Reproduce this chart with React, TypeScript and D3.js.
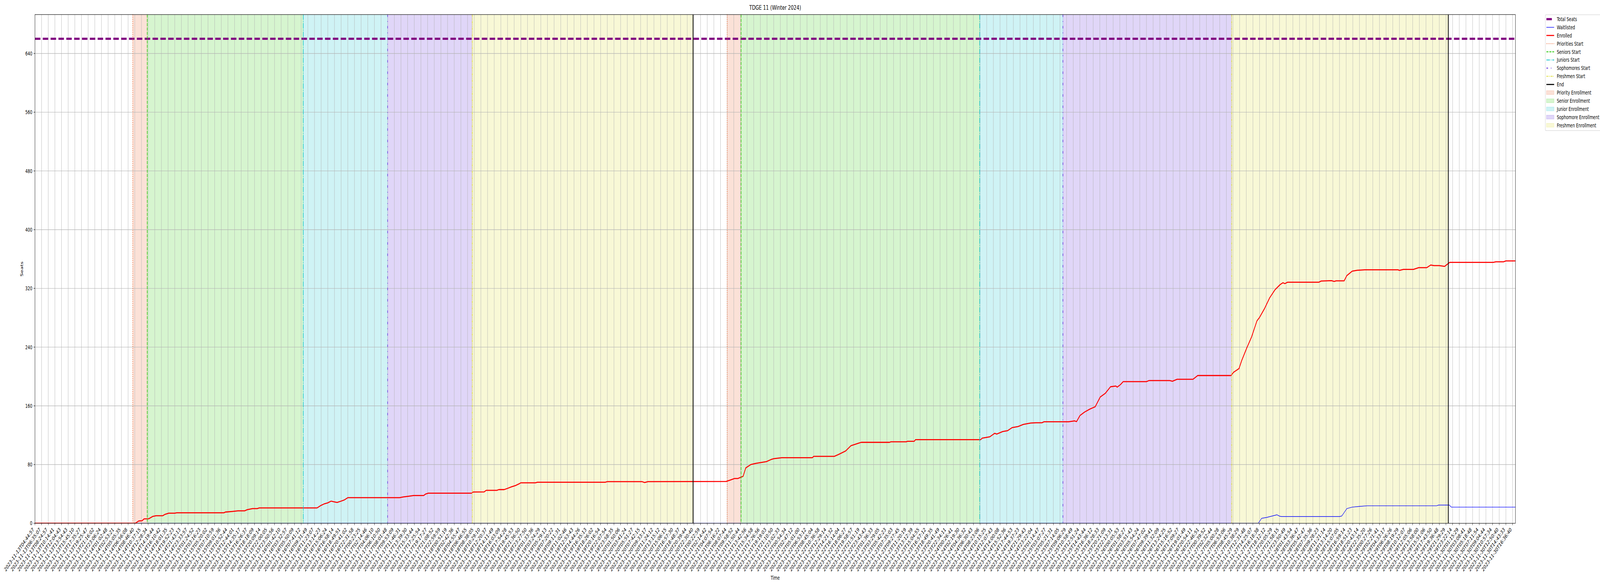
import React, { useLayoutEffect } from "react";
import * as d3 from "d3";

// ---------- data ----------
const TITLE = "TDGE 11 (Winter 2024)";
const TOTAL_SEATS = 660;
const Y_TICKS = [0, 80, 160, 240, 320, 400, 480, 560, 640];

// labelled snapshots (one label every few snapshots on the categorical time axis)
const TICK_LABELS = [
  "2023-11-13T04:44:57","2023-11-13T06:35:07","2023-11-13T08:24:57","2023-11-13T10:14:41","2023-11-13T12:04:43",
  "2023-11-13T13:54:43","2023-11-13T15:45:10","2023-11-13T17:35:27","2023-11-13T19:25:47","2023-11-13T21:16:02",
  "2023-11-13T23:06:24","2023-11-14T01:02:48","2023-11-14T02:53:21","2023-11-14T05:05:35","2023-11-14T06:56:08",
  "2023-11-14T08:46:40","2023-11-14T10:37:15","2023-11-14T12:28:34","2023-11-14T14:19:44","2023-11-14T16:10:42",
  "2023-11-14T18:01:35","2023-11-14T19:52:23","2023-11-14T21:43:13","2023-11-14T23:33:57","2023-11-15T01:24:52",
  "2023-11-15T03:16:23","2023-11-15T05:20:02","2023-11-15T07:10:59","2023-11-15T09:01:36","2023-11-15T10:52:44",
  "2023-11-15T12:44:01","2023-11-15T14:35:17","2023-11-15T16:26:37","2023-11-15T18:18:09","2023-11-15T20:09:14",
  "2023-11-15T22:00:05","2023-11-15T23:50:56","2023-11-16T01:42:10","2023-11-16T03:32:57","2023-11-16T05:50:09",
  "2023-11-16T07:41:12","2023-11-16T09:31:49","2023-11-16T11:23:07","2023-11-16T13:14:23","2023-11-16T15:06:24",
  "2023-11-16T16:58:14","2023-11-16T18:49:51","2023-11-16T20:41:02","2023-11-16T22:31:58","2023-11-17T00:23:25",
  "2023-11-17T02:14:46","2023-11-17T04:06:10","2023-11-17T06:10:50","2023-11-17T08:01:48","2023-11-17T09:53:09",
  "2023-11-17T11:46:31","2023-11-17T13:39:30","2023-11-17T15:33:44","2023-11-17T17:25:54","2023-11-17T19:17:27",
  "2023-11-17T21:08:52","2023-11-17T22:59:59","2023-11-18T00:51:19","2023-11-18T02:42:36","2023-11-18T04:55:47",
  "2023-11-18T06:46:55","2023-11-18T08:38:05","2023-11-18T10:29:10","2023-11-18T12:20:37","2023-11-18T14:11:49",
  "2023-11-18T16:03:09","2023-11-18T17:54:28","2023-11-18T19:45:53","2023-11-18T21:36:50","2023-11-18T23:27:50",
  "2023-11-19T01:33:36","2023-11-19T03:24:29","2023-11-19T05:29:13","2023-11-19T07:20:22","2023-11-19T09:11:31",
  "2023-11-19T11:02:46","2023-11-19T12:53:43","2023-11-19T14:44:26","2023-11-19T16:35:13","2023-11-19T18:26:02",
  "2023-11-19T20:16:54","2023-11-19T22:07:54","2023-11-19T23:58:35","2023-11-20T01:50:06","2023-11-20T03:41:24",
  "2023-11-20T05:51:27","2023-11-20T07:42:15","2023-11-20T09:33:17","2023-11-20T11:24:12","2023-11-20T13:15:12",
  "2023-11-20T15:06:15","2023-11-20T16:57:30","2023-11-20T18:48:37","2023-11-20T20:39:44","2023-11-20T22:30:40",
  "2023-11-21T00:22:59","2023-11-21T02:14:42","2023-11-21T04:07:54","2023-11-21T06:16:22","2023-11-21T08:07:44",
  "2023-11-21T09:58:52","2023-11-21T11:50:44","2023-11-21T13:42:56","2023-11-21T15:34:58","2023-11-21T17:26:56",
  "2023-11-21T19:19:03","2023-11-21T21:10:50","2023-11-21T23:02:33","2023-11-22T00:54:34","2023-11-22T02:47:12",
  "2023-11-22T05:01:00","2023-11-22T06:53:12","2023-11-22T08:45:04","2023-11-22T10:36:58","2023-11-22T12:29:14",
  "2023-11-22T14:21:32","2023-11-22T16:14:04","2023-11-22T18:06:27","2023-11-22T19:58:57","2023-11-22T21:51:19",
  "2023-11-22T23:43:43","2023-11-23T01:36:33","2023-11-23T03:29:05","2023-11-23T05:42:23","2023-11-23T07:35:03",
  "2023-11-23T09:27:45","2023-11-23T11:20:19","2023-11-23T13:12:39","2023-11-23T15:04:55","2023-11-23T16:57:12",
  "2023-11-23T18:49:35","2023-11-23T20:41:49","2023-11-23T22:34:11","2023-11-24T00:26:41","2023-11-24T02:19:30",
  "2023-11-24T04:36:32","2023-11-24T06:30:43","2023-11-24T08:23:06","2023-11-24T10:15:25","2023-11-24T12:07:43",
  "2023-11-24T14:00:08","2023-11-24T15:52:36","2023-11-24T17:44:53","2023-11-24T19:37:23","2023-11-24T21:29:43",
  "2023-11-24T23:22:04","2023-11-25T01:14:47","2023-11-25T03:07:27","2023-11-25T05:21:31","2023-11-25T07:14:05",
  "2023-11-25T09:06:29","2023-11-25T10:58:49","2023-11-25T12:51:24","2023-11-25T14:43:44","2023-11-25T16:36:12",
  "2023-11-25T18:28:33","2023-11-25T20:21:09","2023-11-25T22:13:31","2023-11-26T00:05:53","2023-11-26T01:58:27",
  "2023-11-26T03:51:43","2023-11-26T05:54:24","2023-11-26T07:47:02","2023-11-26T09:39:41","2023-11-26T11:32:09",
  "2023-11-26T13:24:25","2023-11-26T15:16:52","2023-11-26T17:09:27","2023-11-26T19:01:49","2023-11-26T20:54:11",
  "2023-11-26T22:46:51","2023-11-27T00:39:52","2023-11-27T02:32:44","2023-11-27T05:00:28","2023-11-27T06:53:06",
  "2023-11-27T08:45:29","2023-11-27T10:38:29","2023-11-27T12:31:48","2023-11-27T14:25:07","2023-11-27T16:18:38",
  "2023-11-27T18:12:12","2023-11-27T20:05:29","2023-11-27T21:58:15","2023-11-27T23:50:49","2023-11-28T01:43:54",
  "2023-11-28T03:36:47","2023-11-28T05:42:47","2023-11-28T07:35:36","2023-11-28T09:28:23","2023-11-28T11:21:14",
  "2023-11-28T13:14:20","2023-11-28T15:07:05","2023-11-28T16:59:14","2023-11-28T18:51:23","2023-11-28T20:43:14",
  "2023-11-28T22:35:20","2023-11-29T00:27:26","2023-11-29T02:21:41","2023-11-29T04:33:17","2023-11-29T06:26:26",
  "2023-11-29T08:19:29","2023-11-29T10:12:07","2023-11-29T12:05:06","2023-11-29T13:58:00","2023-11-29T15:51:06",
  "2023-11-29T17:43:50","2023-11-29T19:36:48","2023-11-29T21:29:29","2023-11-29T23:22:14","2023-11-30T01:15:29",
  "2023-11-30T03:08:41","2023-11-30T05:18:48","2023-11-30T07:11:54","2023-11-30T09:04:44","2023-11-30T10:57:34",
  "2023-11-30T12:50:40","2023-11-30T14:43:33","2023-11-30T16:36:40",
];
// last snapshot on the axis, in labelled-tick units
const LAST_SNAPSHOT = 222.44;

// enrolled seats: snapshot position (labelled-tick units) and seat count
const ENROLLED_POS = [
  0, 15.1, 15.4, 15.6, 16.1, 16.4, 17.1, 17.7, 18.2, 19.2, 19.5, 20.1, 21.0, 21.3, 28.4, 28.6, 29.7, 30.5, 31.5, 31.9,
  32.7, 33.4, 33.7, 42.4, 42.9, 43.5, 44.0, 44.5, 44.9, 45.4, 46.0, 46.5, 47.0, 54.8, 55.3, 56.2, 56.9, 58.4, 58.7, 59.1,
  65.6, 65.85, 67.5, 67.8, 69.4, 69.7, 70.5, 71.1, 71.6, 72.2, 72.75, 73.0, 75.2, 75.5, 85.7, 86.0, 91.2, 91.6, 92.1,
  103.85, 104.5, 105.1, 105.6, 106.4, 106.8, 107.55, 108.3, 109.1, 109.9, 110.6, 111.0, 112.2, 116.8, 117.0, 120.1,
  120.7, 121.8, 122.6, 123.8, 124.15, 128.4, 128.6, 130.9, 131.1, 132.1, 132.3, 142.1, 142.3, 143.45, 144.2, 144.5,
  145.4, 146.15, 146.8, 147.7, 148.5, 149.6, 150.4, 151.3, 151.6, 155.3, 156.2, 156.5, 157.0, 157.7, 158.5, 159.3,
  160.05, 160.8, 161.6, 162.4, 162.6, 163.1, 163.5, 167.0, 167.4, 170.5, 170.9, 171.6, 174.0, 174.7, 179.7, 180.1,
  180.9, 181.3, 182.05, 182.8, 183.6, 184.0, 184.75, 185.5, 186.3, 187.1, 187.5, 187.8, 188.2, 192.9, 193.25, 194.8,
  195.2, 195.5, 196.7, 197.1, 197.9, 198.65, 199.8, 204.8, 205.0, 205.6, 207.1, 207.9, 209.1, 209.7, 210.2, 211.0,
  211.8, 212.55, 219.1, 219.5, 220.65, 221.0, 222.44,
];
const ENROLLED = [
  0, 0, 2, 3.2, 3.5, 6, 6.2, 9.4, 10.3, 10.3, 12, 13.8, 13.8, 14.3, 14.3, 15.3, 16.2, 17, 17, 18.6,
  20, 20, 21, 21, 24, 26.6, 27.9, 30.2, 29.3, 28.4, 30.2, 31.9, 34.9, 34.9, 35.8, 36.9, 37.8, 37.8, 39.9, 41,
  41, 42.6, 42.8, 44.9, 44.9, 45.9, 45.9, 47.9, 49.7, 51.4, 53.8, 55.2, 55.2, 55.9, 55.9, 56.8, 56.8, 55.5, 56.8,
  57, 59, 61, 61, 64, 75.5, 80, 81.6, 82.8, 84, 86.9, 88, 89.3, 89.3, 91.2, 91.2,
  93.6, 98.5, 105.7, 109.3, 110.3, 110.3, 111, 111, 111.7, 111.7, 113.9, 113.9, 116, 117.8, 122.6, 121.5,
  125, 126.2, 130.3, 131.8, 134.7, 136.6, 137, 137, 138.3, 138.3, 139.5, 138.5, 146.7, 151.5, 155.6, 158.8,
  172, 176.9, 186, 187, 185.5, 189, 193, 193, 194.5, 194.5, 193.5, 196.2, 196.2, 201.3, 201.3, 205.8,
  210.7, 221.5, 238.4, 254, 275.8, 280.6, 292.7, 307, 318, 325.3, 327.7, 326.5, 328.4, 328.4, 330, 330.5,
  329.5, 330.3, 330.3, 337.4, 343.4, 344.6, 345.3, 345.3, 344.5, 345.8, 345.8, 348.2, 348.2, 351.8, 351, 351,
  350, 355.4, 355.4, 356.2, 356.2, 357.4, 357.4,
];

// waitlisted students
const WAITLIST_POS = [0, 183.8, 184.3, 185.05, 185.8, 186.6, 187.0, 187.3, 196.0, 196.35, 197.1, 197.9, 199.0, 200.2, 210.6, 210.9, 212.5, 212.8, 222.44];
const WAITLISTED = [0, 0, 6.8, 8, 9.7, 11.6, 9.7, 9.2, 9.2, 10, 20, 22, 23, 23.9, 23.9, 24.9, 24.9, 22, 22];

// enrollment phases (two passes); starts in labelled-tick units
const PHASES = ["Priority", "Senior", "Junior", "Sophomore", "Freshmen"];
const PASS1_STARTS = [14.7, 16.87, 40.32, 52.99, 65.7];
const PASS1_END = 98.88;
const PASS2_STARTS = [104.0, 106.1, 141.95, 154.45, 179.8];
const PASS2_END = 212.35;

// ---------- styling ----------
const FONT = "DejaVu Sans";
const PHASE_COLORS = ["#ec6a36", "#33cc11", "#11c4cc", "#6633dd", "#dddd33"];
const PHASE_DASH = ["2.08 3.43", "7.7 3.33", "13.3 3.33 2.08 3.33", "6.25 10.4 2.08 10.4", "6.25 2.08 2.08 2.08 2.08 2.08"];
const START_NAMES = ["Priorities Start", "Seniors Start", "Juniors Start", "Sophomores Start", "Freshmen Start"];
const SPAN_NAMES = ["Priority Enrollment", "Senior Enrollment", "Junior Enrollment", "Sophomore Enrollment", "Freshmen Enrollment"];

const W = 6000, H = 1500;
const L = 131, R = 5683, T = 37.3, B = 1339.5;

export default function App() {
  useLayoutEffect(() => {
    document.documentElement.style.margin = "0";
    document.body.style.margin = "0";
    document.body.style.overflow = "hidden";
  }, []);

  const x = d3.scaleLinear().domain([0, LAST_SNAPSHOT]).range([L, R]);
  const y = d3.scaleLinear().domain([0, TOTAL_SEATS * 1.05]).range([B, T]);

  const line = d3
    .line<[number, number]>()
    .x((d) => x(d[0]))
    .y((d) => y(d[1]));

  const enrolledPath = line(ENROLLED_POS.map((p, i) => [p, ENROLLED[i]]));
  const waitPath = line(WAITLIST_POS.map((p, i) => [p, WAITLISTED[i]]));

  const passes = [
    { starts: PASS1_STARTS, end: PASS1_END },
    { starts: PASS2_STARTS, end: PASS2_END },
  ];

  const tickIdx = d3.range(TICK_LABELS.length);

  const legendRows: { kind: string; label: string; color: string; dash?: string; width?: number }[] = [
    { kind: "line", label: "Total Seats", color: "purple", dash: "20.5 8.9", width: 5.56 },
    { kind: "line", label: "Waitlisted", color: "blue", width: 1.39 },
    { kind: "line", label: "Enrolled", color: "red", width: 2.78 },
    ...START_NAMES.map((n, i) => ({ kind: "line", label: n, color: PHASE_COLORS[i], dash: PHASE_DASH[i], width: 2.08 })),
    { kind: "line", label: "End", color: "black", width: 2.78 },
    ...SPAN_NAMES.map((n, i) => ({ kind: "patch", label: n, color: PHASE_COLORS[i] })),
  ];

  return (
    <svg
      viewBox={`0 0 ${W} ${H}`}
      preserveAspectRatio="none"
      style={{
        position: "fixed",
        left: 0,
        top: 0,
        width: "100vw",
        height: "100vh",
        display: "block",
        background: "white",
        fontFamily: FONT,
      }}
    >
      <defs>
        <clipPath id="plot">
          <rect x={L} y={T} width={R - L} height={B - T} />
        </clipPath>
        <clipPath id="page">
          <rect x={0} y={0} width={W} height={H} />
        </clipPath>
      </defs>
      <rect x={0} y={0} width={W} height={H} fill="white" />

      <g clipPath="url(#plot)">
        {/* phase spans */}
        {passes.map((p, pi) =>
          p.starts.map((s, i) => {
            const e = i < p.starts.length - 1 ? p.starts[i + 1] : p.end;
            return (
              <rect
                key={`span-${pi}-${i}`}
                x={x(s)}
                y={T - 2}
                width={x(e) - x(s)}
                height={B - T + 4}
                fill={PHASE_COLORS[i]}
                fillOpacity={0.2}
                stroke={PHASE_COLORS[i]}
                strokeOpacity={0.2}
                strokeWidth={1.39}
              />
            );
          })
        )}

        {/* grid */}
        {tickIdx.map((i) => (
          <line key={`gx${i}`} x1={x(i)} x2={x(i)} y1={T} y2={B} stroke="#b0b0b0" strokeWidth={1.11} />
        ))}
        {Y_TICKS.map((v) => (
          <line key={`gy${v}`} x1={L} x2={R} y1={y(v)} y2={y(v)} stroke="#b0b0b0" strokeWidth={1.11} />
        ))}

        {/* data lines */}
        <line
          x1={L}
          x2={R}
          y1={y(TOTAL_SEATS)}
          y2={y(TOTAL_SEATS)}
          stroke="purple"
          strokeWidth={5.56}
          strokeDasharray="20.5 8.9"
        />
        <path d={waitPath || ""} fill="none" stroke="blue" strokeWidth={1.39} strokeLinejoin="round" />
        <path d={enrolledPath || ""} fill="none" stroke="red" strokeWidth={2.78} strokeLinejoin="round" />

        {/* phase start and end markers */}
        {passes.map((p, pi) => (
          <g key={`mk${pi}`}>
            {p.starts.map((s, i) => (
              <line
                key={`st${pi}-${i}`}
                x1={x(s)}
                x2={x(s)}
                y1={T}
                y2={B}
                stroke={PHASE_COLORS[i]}
                strokeWidth={2.08}
                strokeDasharray={PHASE_DASH[i]}
              />
            ))}
            <line x1={x(p.end)} x2={x(p.end)} y1={T} y2={B} stroke="black" strokeWidth={2.78} />
          </g>
        ))}
      </g>

      {/* spines */}
      <rect x={L} y={T} width={R - L} height={B - T} fill="none" stroke="black" strokeWidth={1.11} />

      {/* x ticks */}
      {tickIdx.map((i) => (
        <g key={`xt${i}`}>
          <line x1={x(i)} x2={x(i)} y1={B} y2={B + 4.86} stroke="black" strokeWidth={1.11} />
          <text
            x={x(i) - 2.3}
            y={1356.5}
            fontSize={13.9}
            textAnchor="end"
            transform={`rotate(-45 ${x(i) - 2.3} 1356.5)`}
          >
            {TICK_LABELS[i]}
          </text>
        </g>
      ))}

      {/* y ticks */}
      {Y_TICKS.map((v) => (
        <g key={`yt${v}`}>
          <line x1={L - 4.86} x2={L} y1={y(v)} y2={y(v)} stroke="black" strokeWidth={1.11} />
          <text x={L - 9.7} y={y(v) + 5} fontSize={13.9} textAnchor="end">
            {v}
          </text>
        </g>
      ))}

      {/* labels */}
      <text x={(L + R) / 2} y={25} fontSize={16.7} textAnchor="middle">
        {TITLE}
      </text>
      <text x={(L + R) / 2} y={1484} fontSize={13.9} textAnchor="middle">
        Time
      </text>
      <text x={86} y={(T + B) / 2} fontSize={13.9} textAnchor="middle" transform={`rotate(-90 86 ${(T + B) / 2})`}>
        Seats
      </text>

      {/* legend */}
      <g clipPath="url(#page)">
        <rect x={5795} y={37.7} width={220} height={296.5} rx={2.8} fill="white" fillOpacity={0.8} stroke="#cccccc" strokeWidth={1.11} />
        {legendRows.map((r, i) => {
          const cy = 49 + 20.9 * i;
          return (
            <g key={`lg${i}`}>
              {r.kind === "line" ? (
                <line
                  x1={5799}
                  x2={5828}
                  y1={cy}
                  y2={cy}
                  stroke={r.color}
                  strokeWidth={r.width}
                  strokeDasharray={r.dash}
                />
              ) : (
                <rect
                  x={5799}
                  y={cy - 4.9}
                  width={28.5}
                  height={9.7}
                  fill={r.color}
                  fillOpacity={0.2}
                  stroke={r.color}
                  strokeOpacity={0.2}
                  strokeWidth={1.39}
                />
              )}
              <text x={5838} y={cy + 5} fontSize={13.9}>
                {r.label}
              </text>
            </g>
          );
        })}
      </g>
    </svg>
  );
}
